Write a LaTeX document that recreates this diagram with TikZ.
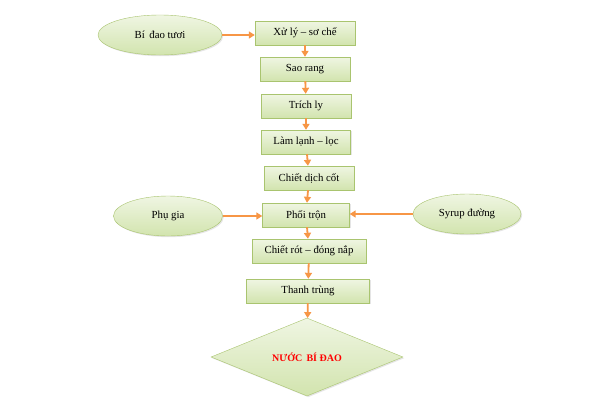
\documentclass[tikz,border=0pt]{standalone}
\usepackage{fontspec}
\setmainfont{Liberation Serif}
\usetikzlibrary{arrows.meta,shapes.geometric,shadows}
\definecolor{boxfill}{HTML}{D2E4AE}
\definecolor{boxline}{HTML}{A9C46F}
\definecolor{arrowc}{HTML}{F79646}

\begin{document}
\begin{tikzpicture}[x=1pt,y=-1pt,font=\fontsize{10.8}{12}\selectfont,
  >={Triangle[length=6pt,width=7pt]},
  stepbox/.style={draw=boxline,top color=boxfill!35!white,bottom color=boxfill,
    minimum height=24pt,inner sep=1pt,
    drop shadow={opacity=0.2,shadow xshift=1.2pt,shadow yshift=-1.2pt}},
  inbox/.style={ellipse,draw=boxline,top color=boxfill!35!white,bottom color=boxfill,
    minimum height=40pt,inner sep=0pt,
    drop shadow={opacity=0.2,shadow xshift=1.2pt,shadow yshift=-1.2pt}},
  flow/.style={->,draw=arrowc,line width=1.8pt}]
\fill[white] (0,0) rectangle (599,400);
\useasboundingbox (0,0) rectangle (599,400);
% main steps
\node[stepbox,minimum width=100pt] (xuly) at (305,33) {Xử lý – sơ chế};
\node[stepbox,minimum width=90pt] (saorang) at (305,69) {Sao rang};
\node[stepbox,minimum width=90pt] (trichly) at (306,106) {Trích ly};
\node[stepbox,minimum width=89pt] (lamlanh) at (306,142) {Làm lạnh – lọc};
\node[stepbox,minimum width=90pt] (chietdich) at (309,178) {Chiết dịch cốt};
\node[stepbox,minimum width=87pt] (phoitron) at (306,215) {Phối trộn};
\node[stepbox,minimum width=114pt] (chietrot) at (309,251) {Chiết rót – đóng nắp};
\node[stepbox,minimum width=123pt] (thanhtrung) at (308,291) {Thanh trùng};
\node[diamond,aspect=2.5,draw=boxline,top color=boxfill!35!white,bottom color=boxfill,
  minimum width=192pt,minimum height=78pt,inner sep=0pt,
  drop shadow={opacity=0.2,shadow xshift=1.2pt,shadow yshift=-1.2pt},
  font=\fontsize{10}{11}\selectfont\bfseries,text=red] (sanpham) at (307,357) {NƯỚC\, BÍ ĐAO};
% inputs
\node[inbox,minimum width=124pt] (bidao) at (160,35) {Bí\, đao tươi};
\node[inbox,minimum width=109pt] (phugia) at (168,216) {Phụ gia};
\node[inbox,minimum width=108pt] (syrup) at (467,214) {Syrup đường};
% arrows
\draw[flow] (xuly) -- (saorang);
\draw[flow] (saorang) -- (trichly);
\draw[flow] (trichly) -- (lamlanh);
\draw[flow] (lamlanh) -- (chietdich);
\draw[flow] (chietdich) -- (phoitron);
\draw[flow] (phoitron) -- (chietrot);
\draw[flow] (chietrot) -- (thanhtrung);
\draw[flow] (thanhtrung) -- (sanpham);
\draw[flow] (bidao.east) -- (bidao.east -| xuly.west);
\draw[flow] (phugia.east) -- (phugia.east -| phoitron.west);
\draw[flow] (syrup.west) -- (syrup.west -| phoitron.east);
\end{tikzpicture}
\end{document}
